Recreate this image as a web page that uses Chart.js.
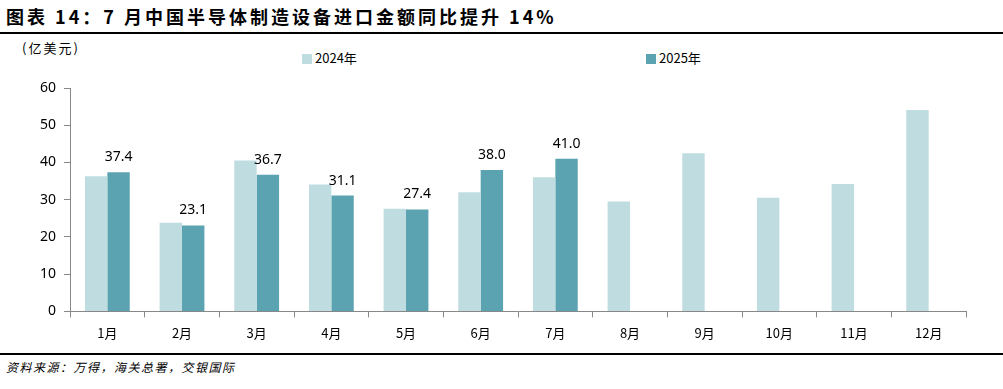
<!DOCTYPE html>
<html>
<head>
<meta charset="utf-8">
<script src="https://cdn.jsdelivr.net/npm/chart.js@4.4.0/dist/chart.umd.min.js"></script>
<style>
  body { margin: 0; background: #fff; font-family: "Noto Sans CJK SC", "Noto Sans", sans-serif; }
  #wrap { position: relative; width: 1003px; height: 389px; overflow: hidden; }
  #title { position: absolute; left: 6px; top: 3px; font-size: 18px; font-weight: bold; color: #000; letter-spacing: 3px; }
  #topline { position: absolute; left: 0; top: 32px; width: 1003px; height: 2px; background: #000; }
  #unit { position: absolute; left: 22px; top: 38px; font-size: 13px; color: #000; letter-spacing: 2px; }
  .leg { position: absolute; top: 48px; font-size: 13px; color: #000; }
  .leg span { display: inline-block; width: 10px; height: 10px; margin-right: 3px; vertical-align: -1px; }
  #chartbox { position: absolute; left: 0; top: 40px; width: 1003px; height: 310px; }
  #botline { position: absolute; left: 0; top: 353px; width: 1003px; height: 2px; background: #000; }
  #source { position: absolute; left: 6px; top: 358px; font-size: 12px; font-style: italic; color: #000; letter-spacing: 1.5px; }
</style>
</head>
<body>
<div id="wrap">
  <div id="title">图表 14：7 月中国半导体制造设备进口金额同比提升 14%</div>
  <div id="topline"></div>
  <div id="unit">(亿美元)</div>
  <div class="leg" style="left:302px"><span style="background:#BFDCE0"></span>2024年</div>
  <div class="leg" style="left:646px"><span style="background:#5BA3B0"></span>2025年</div>
  <div id="chartbox"><canvas id="c"></canvas></div>
  <div id="botline"></div>
  <div id="source">资料来源：万得，海关总署，交银国际</div>
</div>
<script>
const months = ['1月','2月','3月','4月','5月','6月','7月','8月','9月','10月','11月','12月'];
const v2024 = [36.3, 23.8, 40.5, 34.1, 27.6, 32.0, 36.0, 29.5, 42.5, 30.5, 34.2, 54.1];
const v2025 = [37.4, 23.1, 36.7, 31.1, 27.4, 38.0, 41.0, null, null, null, null, null];
const yTicks = [0, 10, 20, 30, 40, 50, 60];

const labelPlugin = {
  id: 'barLabels',
  afterDatasetsDraw(chart) {
    const ctx = chart.ctx;
    const meta = chart.getDatasetMeta(1);
    ctx.save();
    ctx.font = '14px "Noto Sans", sans-serif';
    ctx.fillStyle = '#000';
    ctx.textAlign = 'center';
    ctx.textBaseline = 'bottom';
    meta.data.forEach((bar, i) => {
      if (v2025[i] == null) return;
      ctx.fillText(v2025[i].toFixed(1), bar.x, bar.y - 8);
    });
    ctx.restore();
  }
};

new Chart(document.getElementById('c'), {
  type: 'bar',
  data: {
    labels: months,
    datasets: [
      { label: '2024年', data: v2024, backgroundColor: '#BFDCE0', categoryPercentage: 0.6, barPercentage: 1.0 },
      { label: '2025年', data: v2025, backgroundColor: '#5BA3B0', categoryPercentage: 0.6, barPercentage: 1.0 }
    ]
  },
  options: {
    responsive: true,
    maintainAspectRatio: false,
    animation: false,
    layout: { padding: { top: 48, right: 37, left: 32, bottom: 1 } },
    plugins: { legend: { display: false }, tooltip: { enabled: false } },
    scales: {
      x: {
        grid: { display: true, offset: true, drawOnChartArea: false, color: '#888', tickLength: 6 },
        border: { color: '#888', width: 1 },
        ticks: { color: '#000', font: { size: 13, family: '"Noto Sans CJK SC", sans-serif' }, padding: 8 }
      },
      y: {
        min: 0, max: 60,
        afterBuildTicks: axis => { axis.ticks = yTicks.map(v => ({ value: v })); },
        grid: { display: true, drawOnChartArea: false, color: '#888', tickLength: 6 },
        border: { color: '#888', width: 1 },
        ticks: { color: '#000', font: { size: 14, family: '"Noto Sans", sans-serif' }, padding: 8 }
      }
    }
  },
  plugins: [labelPlugin]
});
</script>
</body>
</html>
